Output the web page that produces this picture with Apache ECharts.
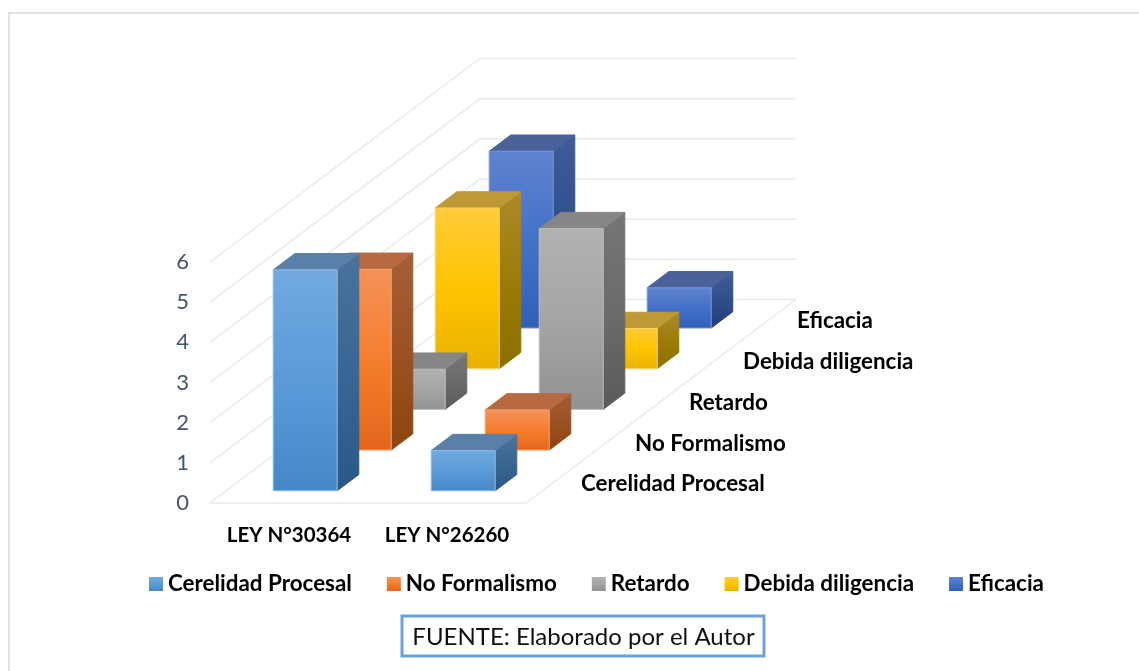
<!DOCTYPE html>
<html><head><meta charset="utf-8">
<style>html,body{margin:0;padding:0;background:#fff}#c{width:1139px;height:671px}</style>
<script src="https://cdn.jsdelivr.net/npm/echarts@6/dist/echarts.min.js"></script>
</head><body><div id="c"></div>
<script>
const categories = ['LEY N°30364', 'LEY N°26260'];
const seriesNames = ['Cerelidad Procesal', 'No Formalismo', 'Retardo', 'Debida diligencia', 'Eficacia'];
const cerelidad = [5.5, 1];
const noFormalismo = [4.5, 1];
const retardo = [1, 4.5];
const debida = [4, 1];
const eficacia = [4.4, 1];
const seriesValues = [cerelidad, noFormalismo, retardo, debida, eficacia];
const yTicks = [0, 1, 2, 3, 4, 5, 6];

const STEP_X = 54, STEP_Y = 40.7, BAR_DEPTH = 0.4, BAR_INSET = 0.3, BAR_WIDTH = 0.405;
const FONT = 'Lato, "Open Sans", sans-serif';
const grad = (a, b, c) => new echarts.graphic.LinearGradient(0, 0, 0, 1, [
  {offset: 0, color: a}, {offset: 0.5, color: b}, {offset: 1, color: c}]);
const palette = [
  {front: ['#72A9E0', '#5A9BD8', '#4687C8'], side: ['#4A729B', '#3A6694', '#2A5785'], top: '#5A80AA', edge: '#8FBBE6'},
  {front: ['#F4925A', '#F57E2E', '#E3661A'], side: ['#A55E36', '#9C5122', '#8C4410'], top: '#B76A40', edge: '#F5A67A'},
  {front: ['#B2B2B2', '#A5A5A5', '#929292'], side: ['#767676', '#6B6B6B', '#5A5A5A'], top: '#868686', edge: '#BEBEBE'},
  {front: ['#FFCB3A', '#FFC400', '#E8B200'], side: ['#AD8A2C', '#9C7C08', '#8C7000'], top: '#BE9A36', edge: '#FFD566'},
  {front: ['#6082CF', '#4472C8', '#2F60B8'], side: ['#3F5C96', '#2F4F8C', '#1F3C78'], top: '#4A6299', edge: '#7A97D8'}
];

function barItem(z, pal) {
  return function (params, api) {
    const cat = api.value(0), val = api.value(1);
    const base = api.coord([cat, 0]), top = api.coord([cat, val]);
    const band = api.size([1, 0])[0];
    const w = band * BAR_WIDTH;
    const ox = (z + BAR_INSET) * STEP_X, oy = (z + BAR_INSET) * STEP_Y;
    const dx = BAR_DEPTH * STEP_X, dy = BAR_DEPTH * STEP_Y;
    const x0 = base[0] - w / 2 + ox, x1 = x0 + w;
    const yb = base[1] - oy, yt = top[1] - oy;
    const poly = (pts, fill, stroke) => ({type: 'polygon', shape: {points: pts},
      style: {fill: fill, stroke: stroke || fill, lineWidth: 1}, silent: true});
    return {type: 'group', children: [
      poly([[x1, yt], [x1 + dx, yt - dy], [x1 + dx, yb - dy], [x1, yb]], grad.apply(null, pal.side)),
      poly([[x0, yt], [x1, yt], [x1 + dx, yt - dy], [x0 + dx, yt - dy]], pal.top),
      poly([[x0, yt], [x1, yt], [x1, yb], [x0, yb]], grad.apply(null, pal.front), pal.edge)
    ]};
  };
}

function wallItem(params, api) {
  const v = api.value(0);
  const band = api.size([1, 0])[0];
  const a = api.coord([0, v]), b = api.coord([categories.length - 1, v]);
  const xl = a[0] - band / 2, xr = b[0] + band / 2, y = a[1];
  const ddx = STEP_X * seriesNames.length, ddy = STEP_Y * seriesNames.length;
  const pts = v === 0
    ? [[xr + ddx, y - ddy], [xr, y], [xl, y], [xl + ddx, y - ddy], [xr + ddx, y - ddy]]
    : [[xl, y], [xl + ddx, y - ddy], [xr + ddx, y - ddy]];
  return {type: 'polyline', shape: {points: pts},
    style: {fill: null, stroke: '#E8EAF0', lineWidth: 1.5}, silent: true};
}

function depthLabelItem(params, api) {
  const z = params.dataIndex;
  const band = api.size([1, 0])[0];
  const c = api.coord([categories.length - 1, 0]);
  return {type: 'text', silent: true, style: {
    text: seriesNames[z], x: c[0] + band / 2 + 55 + z * STEP_X, y: c[1] - 19 - z * STEP_Y,
    verticalAlign: 'middle', align: 'left', font: 'bold 22.4px ' + FONT, fill: '#000'}};
}

const series = [
  {type: 'custom', name: '_walls', z: 1, silent: true, clip: false, renderItem: wallItem,
   data: yTicks.map(v => [v]), encode: {y: 0}},
  {type: 'custom', name: '_depth', z: 1, silent: true, clip: false, renderItem: depthLabelItem,
   data: seriesNames.map((n, i) => [i]), encode: {x: 0}}
].concat(seriesNames.map((name, z) => ({
  type: 'custom', name: name, z: 10 - z, silent: true, clip: false,
  itemStyle: {color: palette[z].front[1]},
  renderItem: barItem(z, palette[z]),
  data: seriesValues[z].map((v, i) => [i, v]), encode: {x: 0, y: 1}
})));

const chart = echarts.init(document.getElementById('c'), null, {renderer: 'canvas'});
chart.setOption({
  animation: false,
  backgroundColor: '#fff',
  grid: {left: 210, top: 262, width: 316, height: 241, containLabel: false},
  xAxis: {type: 'category', data: categories, axisLine: {show: false}, axisTick: {show: false},
    splitLine: {show: false}, axisLabel: {interval: 0, hideOverlap: false, margin: 22, color: '#000', fontWeight: 'bold', fontSize: 20.5, fontFamily: FONT}},
  yAxis: {type: 'value', min: 0, max: 6, interval: 1, axisLine: {show: false}, axisTick: {show: false},
    splitLine: {show: false}, axisLabel: {margin: 21, color: '#44546A', fontSize: 22, fontFamily: FONT, padding: [2, 0, 0, 0]}},
  legend: {left: 144, top: 568, itemWidth: 14, itemHeight: 14, itemGap: 35, icon: 'rect',
    selectedMode: false,
    textStyle: {color: '#000', fontWeight: 'bold', fontSize: 22.4, fontFamily: FONT},
    data: seriesNames.map((n, i) => ({name: n, icon: 'rect', itemStyle: {color: grad.apply(null, palette[i].front)}}))},
  graphic: [
    {type: 'polyline', silent: true, z: 0, shape: {points: [[9, 671], [9, 13], [1139, 13]]},
     style: {fill: null, stroke: '#DDE3EA', lineWidth: 2}},
    {type: 'rect', silent: true, z: 20, shape: {x: 402, y: 616, width: 362, height: 40},
     style: {fill: '#fff', stroke: '#6AA2D9', lineWidth: 3}},
    {type: 'text', silent: true, z: 21, style: {text: 'FUENTE: Elaborado por el Autor', x: 583.5, y: 637,
      align: 'center', verticalAlign: 'middle', font: '24px ' + FONT, fill: '#111'}}
  ],
  series: series
});
</script></body></html>
